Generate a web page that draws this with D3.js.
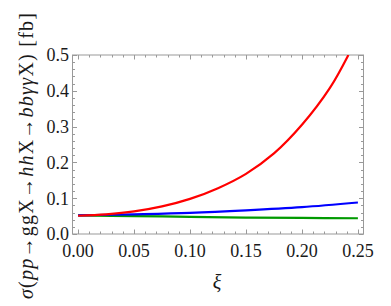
<!DOCTYPE html>
<html>
<head>
<meta charset="utf-8">
<script src="https://cdn.jsdelivr.net/npm/d3@7"></script>
<style>
  body { margin: 0; background: #fff; }
</style>
</head>
<body>
<div id="chart"></div>
<script>
var xiRed = [0, 0.025, 0.05, 0.075, 0.1, 0.125, 0.15, 0.175, 0.2, 0.225, 0.2415];
var red   = [0.051, 0.055, 0.063, 0.077, 0.098, 0.128, 0.168, 0.225, 0.305, 0.408, 0.500];
var xiOther = [0, 0.05, 0.1, 0.15, 0.2, 0.25];
var blue  = [0.052, 0.055, 0.059, 0.066, 0.075, 0.088];
var green = [0.052, 0.050, 0.048, 0.046, 0.045, 0.044];
var xTicks = [0, 0.05, 0.1, 0.15, 0.2, 0.25];
var yTicks = [0, 0.1, 0.2, 0.3, 0.4, 0.5];

var width = 391, height = 306;
var serif = "Liberation Serif";

// set the ranges (frame padded a little in x like Mathematica does)
var x = d3.scaleLinear().domain([-0.005, 0.255]).range([72.5, 363.5]);
var y = d3.scaleLinear().domain([0, 0.5]).range([234, 55]);

var svg = d3.select("#chart").append("svg")
    .attr("width", width)
    .attr("height", height)
    .attr("font-family", serif);

svg.append("clipPath").attr("id", "clip")
    .append("rect")
    .attr("x", x(-0.005)).attr("y", y(0.5))
    .attr("width", x(0.255) - x(-0.005))
    .attr("height", y(0) - y(0.5));

// frame ticks (inward, all four sides)
var frameColor = "#999";
var xMinor = d3.range(0, 0.2501, 0.01);
var yMinor = d3.range(0, 0.5001, 0.02);
var ticks = svg.append("g").attr("stroke", frameColor).attr("stroke-width", 1);

xMinor.forEach(function(v) {
    var major = xTicks.some(function(t) { return Math.abs(t - v) < 1e-6; });
    var len = major ? 4.5 : 2.5;
    var px = Math.round(x(v)) + 0.5;
    ticks.append("line").attr("x1", px).attr("x2", px).attr("y1", y(0)).attr("y2", y(0) - len);
    ticks.append("line").attr("x1", px).attr("x2", px).attr("y1", y(0.5)).attr("y2", y(0.5) + len);
});
yMinor.forEach(function(v) {
    var major = yTicks.some(function(t) { return Math.abs(t - v) < 1e-6; });
    var len = major ? 4.5 : 2.5;
    var py = Math.round(y(v)) + 0.5;
    ticks.append("line").attr("y1", py).attr("y2", py).attr("x1", x(-0.005)).attr("x2", x(-0.005) + len);
    ticks.append("line").attr("y1", py).attr("y2", py).attr("x1", x(0.255)).attr("x2", x(0.255) - len);
});

// frame
svg.append("rect")
    .attr("x", x(-0.005)).attr("y", y(0.5))
    .attr("width", x(0.255) - x(-0.005))
    .attr("height", y(0) - y(0.5))
    .attr("fill", "none")
    .attr("stroke", frameColor);

// tick labels
svg.append("g").selectAll("text")
    .data(xTicks)
    .enter().append("text")
    .attr("x", function(d) { return x(d); })
    .attr("y", 257)
    .attr("text-anchor", "middle")
    .attr("font-family", serif)
    .attr("font-size", 18)
    .attr("fill", "#1a1a1a")
    .text(function(d) { return d3.format(".2f")(d); });

svg.append("g").selectAll("text")
    .data(yTicks)
    .enter().append("text")
    .attr("x", 69)
    .attr("y", function(d) { return y(d); })
    .attr("dy", "0.35em")
    .attr("text-anchor", "end")
    .attr("font-family", serif)
    .attr("font-size", 18)
    .attr("fill", "#1a1a1a")
    .text(function(d) { return d3.format(".1f")(d); });

// curves
var line = d3.line()
    .x(function(d) { return x(d[0]); })
    .y(function(d) { return y(d[1]); })
    .curve(d3.curveCatmullRom.alpha(0.5));

var series = [
    { xs: xiOther, ys: green, color: "#009a00" },
    { xs: xiOther, ys: blue, color: "#0000ff" },
    { xs: xiRed, ys: red, color: "#ff0000" }
];
series.forEach(function(s) {
    svg.append("path")
        .datum(s.xs.map(function(v, i) { return [v, s.ys[i]]; }))
        .attr("clip-path", "url(#clip)")
        .attr("fill", "none")
        .attr("stroke", s.color)
        .attr("stroke-width", 2.2)
        .attr("d", line);
});

// axis labels
svg.append("text")
    .attr("x", 217)
    .attr("y", 289)
    .attr("text-anchor", "middle")
    .attr("font-family", serif)
    .attr("font-size", 20)
    .attr("font-style", "italic")
    .attr("fill", "#1a1a1a")
    .text("ξ");

var yl = svg.append("text")
    .attr("transform", "translate(33,156) rotate(-90)")
    .attr("text-anchor", "middle")
    .attr("font-family", serif)
    .attr("font-size", 20)
    .attr("textLength", 286)
    .attr("lengthAdjust", "spacing")
    .attr("fill", "#1a1a1a");
var parts = [
    ["σ", true], ["(", false], ["pp", true], ["→", false], ["gg", false], ["X", false],
    ["→", false], ["hh", true], ["X", false], ["→", false], ["bbγγ", true], ["X", false],
    [")", false], [" [fb]", false]
];
parts.forEach(function(p) {
    yl.append("tspan")
        .attr("font-style", p[1] ? "italic" : "normal")
        .text(p[0]);
});
</script>
</body>
</html>
